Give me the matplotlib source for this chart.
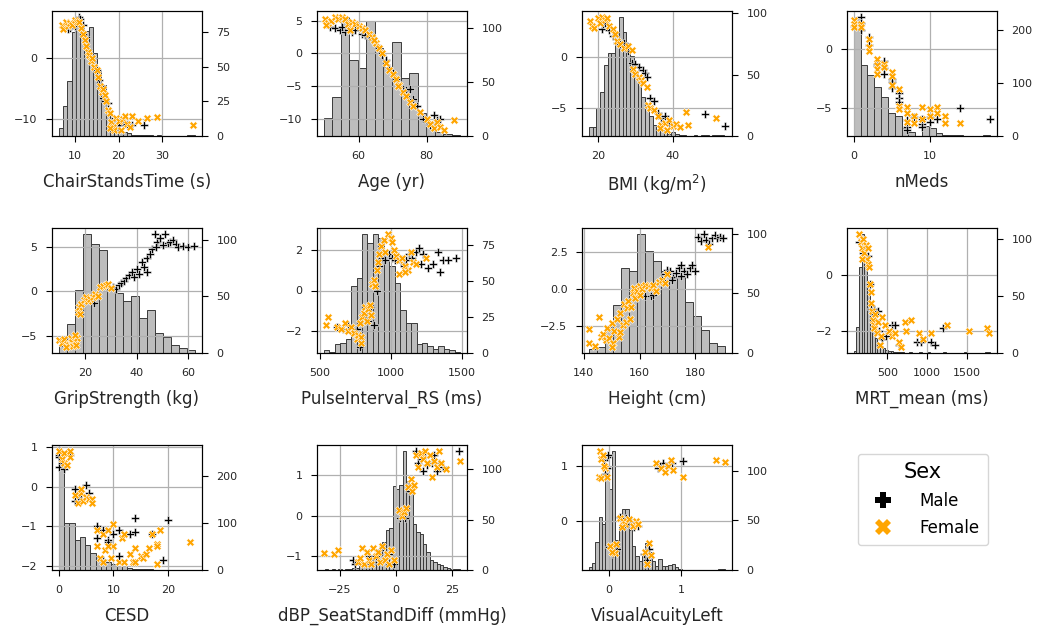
import numpy as np
import matplotlib.pyplot as plt
from matplotlib.lines import Line2D

# ---------------- data ----------------
# ChairStandsTime
chair_bin0, chair_binw = 6.4, 0.97
chair_counts = [6, 22, 40, 75, 86, 80, 76, 79, 60, 47, 37, 19, 15, 6, 3, 3, 2, 1, 1, 1,
                1, 1, 0, 1, 0, 0, 0, 0, 0, 0, 1, 1]
chair_male = [(8, 5.5), (8.5, 4.8), (9, 5), (10, 5.3), (11, 6.8), (11.3, 6.5), (11.8, 5.5),
              (12.5, 3.5), (13, 1.5), (13.5, 0), (14, -0.5), (15, -2), (15.5, -3.5), (16, -4.5),
              (16.5, -6.5), (17, -7), (17.5, -7.3), (18.5, -10.3), (19, -11.5), (20, -11),
              (21, -10.5), (22, -10.8), (23, -11), (25.8, -11), (19.5, -11.6)]
chair_female = [(7.2, 5.5), (7.4, 4.8), (8, 6), (8.5, 5.2), (9, 5.8), (9.5, 5.5), (10, 6.2),
                (10.5, 5.9), (11, 6.0), (11.5, 5.0), (12, 4), (12.3, 3), (12.5, 2), (13, 1),
                (13.3, 0.5), (13.7, -0.5), (14, 0), (14.5, -1.5), (15, -2), (15.3, -3),
                (15.8, -4.5), (16.2, -5.5), (16.5, -5), (17, -6), (17.2, -7), (17.5, -8.5),
                (18, -9), (18.3, -10.5), (18.7, -11.2), (19, -11.8), (19.5, -9.8), (20, -10.2),
                (21, -10), (21.5, -9.5), (22, -10.8), (22.5, -11.3), (23, -9.5), (24.5, -10.3),
                (26.5, -9.8), (28.8, -9.6), (37, -11), (18, -11.5), (20.5, -11.7)]

# Age
age_bin0, age_binw = 49.8, 2.5
age_counts = [17, 36, 110, 70, 63, 106, 81, 64, 87, 54, 58, 21, 12, 4, 2, 1]
age_male = [(51.5, 4), (53, 3.8), (54.5, 3.5), (55, 4), (56, 3.3), (57, 3.6), (58, 3.2),
            (59, 3.5), (61, 3), (62, 2.8), (63, 2.5), (64, 2), (65, 1.2), (66, 0.5),
            (67, -0.3), (68, -1), (69, -2.2), (70, -3), (71, -4), (72, -5), (73, -5.5),
            (74, -5.7), (75, -5.5), (76, -7), (77, -8), (79, -10), (80, -10.5), (81, -11),
            (82, -9.5), (82.5, -11), (83, -10.2), (84, -10)]
age_female = [(50, 5.2), (51, 4.7), (52, 5), (53, 5.5), (54, 5.3), (55, 5.6), (56, 5.2),
              (57, 4.5), (58, 4.8), (59, 4.5), (60, 4.2), (61, 3.8), (62, 3.5), (63, 3.0),
              (64, 2.5), (65, 1.5), (66, 0.8), (67, 0), (68, -1.5), (69, -2.5), (70, -3.2),
              (71, -4), (72, -4.8), (73, -6), (74, -6.5), (75, -7.5), (76, -8), (80, -10),
              (81, -10.8), (82, -11.5), (83, -10.5), (84, -11.3), (85, -11.8), (88, -10.2),
              (50.5, 4.3), (57.5, 3.6), (64.5, 2), (71.5, -5), (78, -9)]

# BMI
bmi_bin0, bmi_binw = 17.6, 1.0
bmi_counts = [7, 7, 23, 36, 58, 68, 68, 84, 97, 85, 76, 65, 53, 43, 32, 23, 16, 9, 6, 5,
              3, 2, 3, 2, 1, 1, 0, 0, 1, 0, 1, 1, 0, 1, 1, 1]
bmi_male = [(21, 2.7), (21.5, 3.2), (22, 3.3), (23, 2.6), (24, 2.0), (25, 1.3), (26, 1.2),
            (27, 1.3), (28, 0.5), (29, -0.6), (30, -0.7), (31, -1.0), (32, -1.3), (32.5, -1.6),
            (33, -2.0), (34, -4), (35, -4.3), (36, -5.5), (37, -6), (38, -5.8), (39, -6.5),
            (48.5, -5.6), (54, -6.8)]
bmi_female = [(18, 3.5), (18.5, 3.0), (19, 2.8), (20, 3.8), (20.5, 3.3), (21, 3.9), (22, 3.6),
              (22.5, 3.8), (23, 3.0), (24, 2.7), (24.5, 2.2), (25, 1.5), (26, 1.2), (27, 0.8),
              (28, 1.0), (29, 0.6), (29.5, -1.2), (30, -1.7), (31, -2), (31.5, -2.3),
              (32, -2.6), (33, -3.0), (33.5, -4.7), (34, -5), (35, -5.2), (36, -5.8),
              (37, -6.7), (38, -6.5), (39, -6.2), (40, -6.8), (41, -6.6), (42, -6.9),
              (43.5, -5.4), (44, -6.7), (51.5, -6.0), (36.5, -7), (38.5, -7.2)]

# nMeds
meds_bin0, meds_binw = 0.0, 0.9
meds_counts = [225, 134, 116, 92, 73, 43, 38, 15, 8, 0, 18, 15, 5, 2, 1, 2, 0, 0, 0, 1]
meds_male = [(1, 2.8), (1, 2.3), (1, 1.7), (0, 2.0), (2, 1.1), (2, 0.4), (3, -1.2), (3, -1.4),
             (4, -1.0), (4, -1.6), (4, -2.1), (5, -2.5), (5, -2.8), (5, -3.3), (6, -3.7),
             (6, -4.1), (6, -4.5), (7, -6.0), (7, -6.6), (7, -6.9), (8, -5.8), (9, -5.9),
             (9, -6.4), (9, -6.6), (10, -5.8), (10, -6.2), (11, -5.9), (14, -5.0), (18, -5.9)]
meds_female = [(0, 2.5), (0, 2.2), (0, 1.9), (1, 2.2), (1, 1.9), (2, 0.9), (2, 0.2), (2, -0.1),
               (3, -0.8), (3, -1.3), (3, -1.7), (3, -2.1), (4, -1.2), (4, -1.5), (5, -1.9),
               (5, -2.3), (5, -3.0), (6, -3.4), (6, -4.8), (6, -5.1), (7, -4.9), (7, -5.4),
               (7, -6.2), (8, -5.7), (8, -6.3), (9, -4.9), (9, -5.9), (10, -5.1), (10, -5.7),
               (11, -4.9), (11, -5.4), (12, -5.7), (12, -6.3), (14, -6.3)]

# GripStrength
grip_bin0, grip_binw = 9.9, 3.1
grip_counts = [6, 26, 56, 105, 96, 91, 56, 53, 46, 50, 31, 38, 18, 14, 7, 4, 3]
grip_male = [(23.5, -1.3), (31, 0.5), (32, 0.3), (33, 0.7), (34, 1.0), (35, 1.2), (36, 1.5),
             (37, 1.8), (38, 2.2), (39, 1.6), (40, 2.5), (41, 2.0), (42, 3.3), (43, 2.8),
             (44, 3.8), (45, 4.2), (46, 4.8), (47, 6.5), (48, 5.6), (49, 6.0), (50, 5.2),
             (51, 6.5), (52, 5.5), (53, 5.6), (54, 5.8), (55, 5.3), (56, 5.0), (58, 5.1),
             (60, 5.0), (62, 5.1), (44, 2.2), (47.5, 5.0)]
grip_female = [(10, -5.5), (11, -5.8), (12, -5.4), (13, -5.9), (14, -6.0), (14.5, -5.3),
               (15, -5.7), (15.5, -6.2), (16, -5.6), (16.5, -6.0), (17, -5.3), (17.3, -2.3),
               (17.6, -1.8), (18, -2.6), (18.5, -1.4), (19.5, -1.0), (20.5, -0.6), (21, -1.1),
               (22, -0.9), (23, -0.6), (24, -0.3), (25, -0.5), (26, 0.5), (27, 0.6), (28, 0.7),
               (29, 0.8), (30, 0.4), (12.5, -6.3), (16, -4.9)]

# PulseInterval_RS
pulse_bin0, pulse_binw = 527, 38.5
pulse_counts = [2, 1, 6, 7, 10, 47, 52, 83, 77, 83, 80, 72, 61, 49, 30, 21, 21, 6, 7, 5,
                3, 5, 3, 2, 1]
pulse_male = [(620, -1.8), (660, -1.9), (700, -1.7), (740, -2.0), (760, -1.9), (780, -2.8),
              (800, -1.5), (820, -1.3), (840, -1.5), (860, -0.8), (880, -1.7), (900, 0.0),
              (920, 1.2), (940, 1.6), (960, 1.5), (990, 1.8), (1010, 1.6), (1030, 1.5),
              (1050, 1.7), (1070, 1.4), (1090, 1.2), (1110, 1.5), (1130, 1.8), (1150, 1.6),
              (1180, 1.9), (1200, 2.1), (1210, 1.3), (1230, 1.8), (1260, 1.1), (1300, 1.3),
              (1330, 1.9), (1350, 0.9), (1370, 1.5), (1400, 1.5), (1460, 1.6)]
pulse_female = [(540, -1.7), (560, -1.3), (620, -1.8), (650, -1.9), (680, -1.6), (700, -2.0),
                (720, -1.8), (740, -2.1), (760, -2.4), (770, -2.2), (780, -1.6), (790, -2.3),
                (800, -1.3), (810, -1.1), (820, -0.8), (830, -1.5), (840, -0.9), (850, -0.7),
                (860, -1.2), (870, 0.3), (880, 0.5), (890, 0.2), (900, 1.0), (910, 1.4),
                (920, 1.8), (930, 2.2), (950, 2.5), (960, 1.9), (980, 2.8), (1000, 2.6),
                (1020, 2.0), (1040, 1.7), (1060, 1.5), (1080, 1.6), (1100, 1.2), (1120, 1.0),
                (1140, 1.9), (1160, 1.4), (1180, 1.3), (1250, 1.6), (790, -2.6), (1010, 2.4),
                (1060, 0.8), (1100, 0.9)]

# Height
height_bin0, height_binw = 141.8, 2.88
height_counts = [3, 5, 22, 40, 71, 69, 100, 86, 77, 69, 64, 64, 43, 31, 19, 8, 6]
height_male = [(162, -0.5), (164, -0.5), (165, -0.4), (168, 0.6), (169, 1.0), (170, 1.3),
               (171, 1.2), (172, 0.8), (173, 1.1), (174, 1.4), (175, 0.9), (176, 1.2),
               (177, 1.0), (178, 1.4), (179, 1.6), (180, 1.2), (181, 3.5), (182, 3.2),
               (183, 3.7), (184, 3.3), (185, 3.0), (186, 3.4), (187, 3.6), (188, 3.4),
               (189, 3.5), (190, 3.4), (171.5, 0.6), (175, 1.6)]
height_female = [(142, -3.6), (142, -2.7), (144, -3.8), (145.5, -1.9), (146, -3.2), (147, -3.0),
                 (148, -3.4), (148.5, -2.6), (149, -3.3), (150, -2.3), (150.5, -3.6),
                 (151, -2.8), (152, -2.0), (152.5, -3.2), (153, -1.6), (154, -2.4),
                 (154.5, -1.0), (155, -2.2), (155.5, -1.3), (156, -0.8), (156.5, -2.0),
                 (157, -1.2), (157.5, -0.3), (158, 0.1), (158.5, -0.6), (159, -0.1),
                 (160, 0.2), (161, 0.0), (162, 0.3), (163, 0.2), (164, 0.1), (165, 0.3),
                 (166, -0.1), (167, 0.5), (168, 0.6), (169, 0.4), (170, 1.0), (184.5, 2.8),
                 (150, -3.9), (153, -2.9), (160, -0.4)]

# MRT_mean
mrt_bin0, mrt_binw = 80, 33
mrt_counts = [2, 23, 75, 104, 85, 61, 38, 23, 13, 9, 6, 4, 3, 2, 2, 1, 1, 1, 1, 0, 0, 1, 0, 0,
              0, 1, 0, 0, 1, 0, 0, 0, 0, 0, 1, 0, 0, 0, 0, 0, 0, 0, 1, 0, 0, 0, 0, 0, 0, 0, 1, 1]
mrt_male = [(140, 1.2), (190, 0.8), (220, 1.0), (240, 0.7), (260, 0.7), (280, -0.3),
            (300, -1.2), (320, -1.4), (340, -1.2), (350, -1.6), (380, -1.3), (400, -2.0),
            (430, -2.3), (480, -2.2), (560, -1.8), (600, -1.8), (650, -2.5), (880, -2.4),
            (930, -2.4), (1050, -2.4), (1100, -2.5), (1200, -1.9)]
mrt_female = [(150, 1.5), (170, 1.2), (180, 1.0), (200, 1.3), (210, 0.8), (230, 1.1), (250, 0.6),
              (260, 0.4), (270, 0.3), (280, -0.3), (290, -0.6), (300, -1.0), (310, -1.3),
              (320, -1.6), (330, -1.8), (340, -1.9), (350, -1.4), (370, -2.1), (390, -1.7),
              (410, -2.5), (420, -2.2), (440, -1.5), (470, -1.8), (520, -2.0), (560, -2.2),
              (600, -2.1), (650, -2.4), (680, -2.6), (720, -1.7), (740, -2.0), (800, -1.6),
              (900, -2.1), (950, -2.3), (1050, -2.1), (1250, -1.8), (1530, -2.0), (1760, -1.9),
              (1780, -2.1), (180, 0.6), (260, 1.0)]

# CESD
cesd_bin0, cesd_binw = 0.0, 0.96
cesd_counts = [252, 100, 99, 64, 69, 53, 37, 27, 20, 16, 13, 9, 8, 4, 3, 2, 2, 2, 1, 1,
               0, 0, 0, 0, 0, 1]
cesd_male = [(0, 0.8), (0, 0.5), (0.5, 0.6), (1, 0.45), (2, 0.8), (0, 0.75), (3, -0.05),
             (3.5, -0.25), (4, -0.3), (5, 0.05), (5.5, -0.15), (3, -0.35), (7, -1.3), (7, -1.0),
             (8, -1.1), (8, -1.85), (9, -1.35), (9, -1.4), (11, -1.1), (11, -1.75), (13, -1.2),
             (14, -0.8), (14, -1.15), (17, -1.2), (19, -1.85), (20, -0.85), (10, -1.2)]
cesd_female = [(0, 0.9), (0.5, 0.7), (1, 0.85), (1, 0.6), (2, 0.75), (2, 0.9), (1.5, 0.55),
               (3, -0.2), (3.5, -0.4), (4, -0.15), (4.5, -0.35), (5, -0.25), (5.5, -0.3),
               (6, -0.3), (6, -0.4), (4, -0.05), (7, -1.1), (7, -1.5), (7.5, -1.8), (8, -1.2),
               (8.5, -1.6), (9, -1.1), (9.5, -1.8), (10, -0.95), (10, -1.5), (11, -1.9),
               (11.5, -1.3), (12, -1.2), (12, -1.9), (13, -1.7), (13.5, -1.9), (14, -1.55),
               (14, -1.9), (15, -1.75), (15.5, -1.8), (16, -1.7), (16.5, -1.55), (17, -1.2),
               (18, -1.45), (18, -1.5), (18, -1.95), (18.5, -1.1), (24, -1.4), (8, -1.9),
               (9, -1.5)]

# dBP_SeatStandDiff
dbp_bin0, dbp_binw = -31.5, 1.5
dbp_counts = [1, 0, 1, 0, 1, 0, 1, 1, 2, 2, 4, 5, 6, 9, 12, 14, 17, 28, 40, 42, 83, 80, 84,
              118, 88, 77, 46, 38, 36, 26, 18, 10, 8, 6, 5, 3, 2, 1, 1, 1]
dbp_male = [(-19, -1.1), (-18, -1.18), (-12, -1.0), (-10, -1.15), (-9, -1.0), (-7, -0.85),
            (-5, -1.05), (-3, -0.95), (-1, -1.2), (2, -0.05), (3, 0.1), (4, -0.05), (6, 0.6),
            (7, 0.7), (9, 1.6), (10, 1.3), (11, 1.4), (12, 1.1), (13, 1.45), (14, 1.25),
            (16, 1.3), (17, 1.5), (18, 1.1), (19, 1.3), (21, 1.2), (28, 1.6)]
dbp_female = [(-32, -0.92), (-27.5, -0.95), (-25.5, -0.85), (-17, -1.15), (-15, -0.8),
              (-14, -1.2), (-13, -0.9), (-12, -1.1), (-11, -1.2), (-10, -0.8), (-9, -1.0),
              (-8, -0.9), (-7, -1.15), (-6, -0.75), (-5, -1.1), (-4, -0.95), (-3, -1.2),
              (-2, -0.85), (-1, -1.1), (1.5, 0.15), (2.5, 0.0), (3.5, 0.1), (4.5, 0.2),
              (5.5, 0.7), (6.5, 0.9), (7, 0.6), (8, 0.75), (9, 1.5), (10, 1.2), (11, 1.55),
              (12, 1.4), (13, 1.6), (14, 1.3), (15, 1.5), (16, 0.95), (17, 1.35), (18, 1.2),
              (19, 1.6), (20, 1.3), (22, 1.15), (28.5, 1.35), (-16, -1.05)]

# VisualAcuityLeft
va_bin0, va_binw = -0.273, 0.0455
va_counts = [3, 7, 28, 53, 46, 98, 82, 120, 30, 43, 61, 61, 40, 24, 14, 9, 14, 27, 18, 9,
             4, 11, 4, 4, 5, 6, 3, 1, 0, 0, 0, 0, 0, 0, 0, 0, 0, 0, 0, 1, 1]
va_male = [(-0.06, 1.1), (-0.03, 1.15), (-0.01, 1.2), (-0.05, 0.85), (-0.02, 0.95),
           (-0.08, 1.15), (0.16, 0.08), (0.24, 0.05), (0.3, -0.02), (0.35, -0.1), (0.4, -0.08),
           (0.26, -0.05), (0.0, -0.47), (0.06, -0.6), (0.12, -0.5), (0.48, -0.6), (0.55, -0.5),
           (0.53, -0.7), (0.68, 0.95), (0.75, 1.05), (0.8, 1.0), (0.87, 1.05), (0.7, 1.0),
           (1.02, 1.08)]
va_female = [(-0.12, 1.27), (-0.1, 1.12), (-0.08, 1.2), (-0.13, 0.8), (-0.1, 0.78), (-0.05, 0.95),
             (-0.03, 0.8), (-0.07, 1.0), (0.15, 0.05), (0.2, 0.0), (0.22, -0.05), (0.28, 0.03),
             (0.33, -0.08), (0.38, 0.0), (0.4, -0.05), (0.18, -0.1), (0.02, -0.45), (0.1, -0.42),
             (0.08, -0.58), (0.05, -0.55), (0.5, -0.55), (0.55, -0.4), (0.58, -0.62),
             (0.52, -0.78), (0.65, 1.05), (0.72, 0.95), (0.78, 0.88), (0.82, 1.0), (0.85, 1.1),
             (0.88, 0.92), (1.02, 0.8), (1.48, 1.1), (1.6, 1.07)]

labels = ["ChairStandsTime (s)", "Age (yr)", "BMI (kg/m$^2$)", "nMeds",
          "GripStrength (kg)", "PulseInterval_RS (ms)", "Height (cm)", "MRT_mean (ms)",
          "CESD", "dBP_SeatStandDiff (mmHg)", "VisualAcuityLeft"]
xticks = [[10, 20, 30], [60, 80], [20, 40], [0, 10], [20, 40, 60], [500, 1000, 1500],
          [140, 160, 180], [500, 1000, 1500], [0, 10, 20], [-25, 0, 25], [0, 1]]
yticks = [[-10, 0], [-10, -5, 0, 5], [-5, 0], [-5, 0], [-5, 0, 5], [-2, 0, 2],
          [-2.5, 0, 2.5], [-2, 0], [-2, -1, 0, 1], [-1, 0, 1], [0, 1]]
rticks = [[0, 25, 50, 75], [0, 50, 100], [0, 50, 100], [0, 100, 200], [0, 50, 100],
          [0, 25, 50, 75], [0, 50, 100], [0, 50, 100], [0, 100, 200], [0, 50, 100],
          [0, 50, 100]]

hists = [(chair_bin0, chair_binw, chair_counts), (age_bin0, age_binw, age_counts),
         (bmi_bin0, bmi_binw, bmi_counts), (meds_bin0, meds_binw, meds_counts),
         (grip_bin0, grip_binw, grip_counts), (pulse_bin0, pulse_binw, pulse_counts),
         (height_bin0, height_binw, height_counts), (mrt_bin0, mrt_binw, mrt_counts),
         (cesd_bin0, cesd_binw, cesd_counts), (dbp_bin0, dbp_binw, dbp_counts),
         (va_bin0, va_binw, va_counts)]
males = [chair_male, age_male, bmi_male, meds_male, grip_male, pulse_male, height_male,
         mrt_male, cesd_male, dbp_male, va_male]
females = [chair_female, age_female, bmi_female, meds_female, grip_female, pulse_female,
           height_female, mrt_female, cesd_female, dbp_female, va_female]

# ---------------- plotting ----------------
W, H = 1041, 630
fig = plt.figure(figsize=(W / 100, H / 100), dpi=100)

col_left = [52, 317, 582, 847]
row_top = [11, 228, 445]
aw, ah = 150, 125
txt = '#262626'

for i in range(11):
    r, c = divmod(i, 4)
    ax = fig.add_axes([col_left[c] / W, 1 - (row_top[r] + ah) / H, aw / W, ah / H])
    axr = ax.twinx()

    b0, bw, counts = hists[i]
    lefts = b0 + bw * np.arange(len(counts))
    axr.bar(lefts, counts, width=bw, align='edge', color='#bdbdbd',
            edgecolor='#3a3a3a', linewidth=0.7)
    ax.set_zorder(axr.get_zorder() + 1)
    ax.patch.set_visible(False)

    m = np.array(males[i])
    f = np.array(females[i])
    ax.scatter(m[:, 0], m[:, 1], marker='P', color='black', s=32,
               edgecolor='white', linewidth=0.4, zorder=3)
    ax.scatter(f[:, 0], f[:, 1], marker='X', color='orange', s=32,
               edgecolor='white', linewidth=0.4, zorder=3)

    ax.grid(True, color='#b0b0b0', linewidth=0.9)
    ax.set_xticks(xticks[i])
    ax.set_yticks(yticks[i])
    axr.set_yticks(rticks[i])
    for a in (ax, axr):
        a.tick_params(labelsize=8, labelcolor=txt, length=4.5, pad=6)
    ax.set_xlabel(labels[i], fontsize=12, color=txt, labelpad=9)

handles = [Line2D([], [], marker='P', color='black', linestyle='', markersize=11,
                  markeredgewidth=0),
           Line2D([], [], marker='X', color='orange', linestyle='', markersize=11,
                  markeredgewidth=0)]
fig.legend(handles, ['Male', 'Female'], title='Sex', loc='upper left',
           bbox_to_anchor=(858 / W, 1 - 454 / H), borderaxespad=0, fontsize=12,
           title_fontsize=15, handletextpad=1.2, borderpad=0.5, labelspacing=0.55)

fig.savefig('out.png', dpi=100)
